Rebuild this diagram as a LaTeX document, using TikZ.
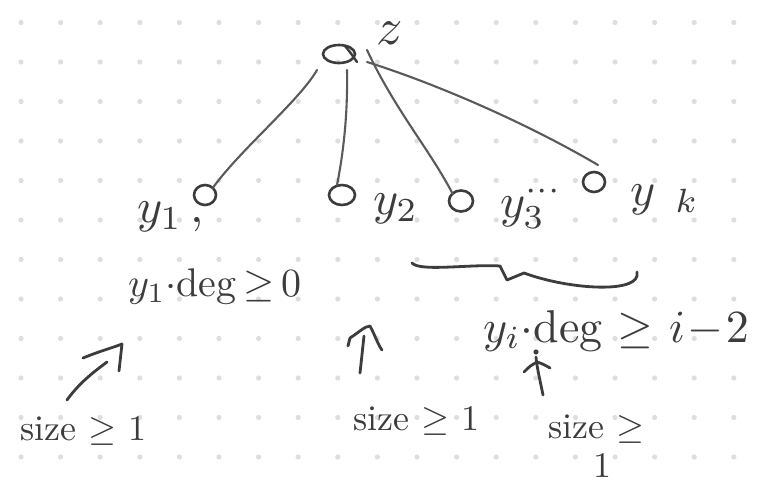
\documentclass[tikz,border=0pt]{standalone}
\usetikzlibrary{shapes.geometric}
\definecolor{ink}{HTML}{3C3C3C}
\definecolor{edgec}{HTML}{5A5A5A}
\definecolor{dotc}{HTML}{DEDEDE}
\begin{document}
\begin{tikzpicture}[x=1pt,y=-1pt,
  inkline/.style={draw=ink,line width=2.8pt,line cap=round,line join=round},
  edge/.style={draw=edgec,line width=2.1pt,line cap=round},
  vert/.style={ellipse,draw=ink,line width=2.6pt,inner sep=0pt,outer sep=0pt},
  lbl/.style={text=ink,inner sep=0pt,outer sep=0pt,font=\normalsize},
  fA/.style={scale=5.2},
  fB/.style={scale=4.8},
  fC/.style={scale=4.0},
  fD/.style={scale=4.6},
  fE/.style={scale=3.6}]
\fill[white] (0,0) rectangle (761,487);
\useasboundingbox (0,0) rectangle (761,487);
% dot grid
\foreach \i in {0,...,18}{\foreach \j in {0,...,11}{\fill[dotc] ({21+39.6*\i},{22.5+39.5*\j}) circle (2.6);}}
% tree vertices
\node[vert,minimum width=32pt,minimum height=18pt] (z) at (339,54) {};
\node[vert,minimum width=22pt,minimum height=20pt] (y1) at (205,195) {};
\node[vert,minimum width=26pt,minimum height=20pt] (y2) at (342,195) {};
\node[vert,minimum width=24pt,minimum height=21pt] (y3) at (461,201) {};
\node[vert,minimum width=22pt,minimum height=20pt] (yk) at (594,182) {};
\draw[inkline,line width=2.4pt] ([xshift=6pt,yshift=8pt]z.center) .. controls (350,52) .. ([xshift=18pt,yshift=-8pt]z.center);
% edges
\draw[edge] ([xshift=-22pt,yshift=-16pt]z.center) .. controls (300,100) and (240,150) .. (y1.north east);
\draw[edge] ([xshift=8pt,yshift=-16pt]z.center) .. controls (348,120) and (342,160) .. ([xshift=-5pt]y2.north);
\draw[edge] ([xshift=28pt,yshift=4pt]z.center) .. controls (395,110) and (430,150) .. (y3.north west);
\draw[edge] ([xshift=28pt,yshift=-8pt]z.center) .. controls (440,85) and (530,125) .. ([xshift=4pt,yshift=7pt]yk.north);
% labels
\node[lbl,fA,anchor=center] (zl) at (390,33) {$z$};
\node[lbl,fB,anchor=base west] (l1) at (137,222) {$y_1$\,,};
\node[lbl,fB,anchor=base west] (l2) at (373,214) {$y_2$};
\node[lbl,fB,anchor=base west] (l3) at (500,217) {$y_3^{\cdots}$};
\node[lbl,fB,anchor=base west] (lk) at (630,205) {$y_{\;\;k}$};
\node[lbl,fC,anchor=base west] (d1) at (128,296) {$y_1{\cdot}$deg\,$\geq$\,0};
\node[lbl,fD,anchor=base west] (di) at (483,342) {$y_i{\cdot}$deg $\geq$ $i\!-\!2$};
\node[lbl,fE,anchor=base west] (s1) at (20,440) {size $\geq$ 1};
\node[lbl,fE,anchor=base west] (s2) at (353,430) {size $\geq$ 1};
\node[lbl,fE,anchor=base west] (s3) at (548,438) {size $\geq$};
\node[lbl,fE,anchor=base] (s3b) at (602,477) {1};
% brace under y3 ... yk
\coordinate (bl) at (412,263);
\coordinate (bm1) at (500,266);
\coordinate (bm2) at (507,280);
\coordinate (bm3) at (524,273);
\coordinate (br) at (637,272);
\draw[inkline] (bl) .. controls (420,272) and (470,264) .. (bm1) -- (bm2) -- (bm3) .. controls (570,290) and (642,294) .. (br);
% arrows
\coordinate (a1s) at (67,400);
\coordinate (a1e) at (107,362);
\draw[inkline] (a1s) .. controls (80,382) and (95,371) .. (a1e);
\draw[inkline] (83,358) .. controls (100,351) and (112,348) .. (122,344) -- (119,371);
\coordinate (a2s) at (360,373);
\coordinate (a2e) at (364,336);
\draw[inkline] (a2s) .. controls (362,355) and (363,345) .. (a2e);
\draw[inkline] (348,346) -- (350,338) .. controls (358,333) and (365,326) .. (370,326) .. controls (375,335) and (378,345) .. (382,350);
\coordinate (a3s) at (543,395);
\coordinate (a3e) at (536,357);
\draw[inkline] (a3s) .. controls (540,380) and (537,368) .. (a3e);
\draw[inkline] (524,372) .. controls (530,366) .. (537,362) .. controls (543,364) .. (550,368);
\fill[ink] (536,352) circle (2.6);
\end{tikzpicture}
\end{document}
